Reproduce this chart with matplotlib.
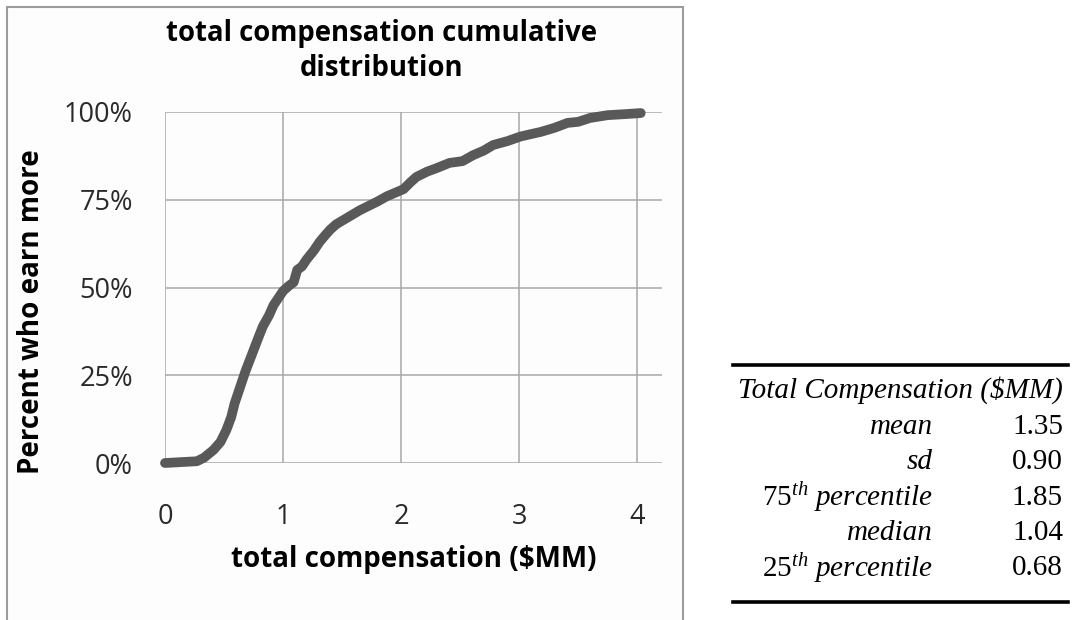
import matplotlib
matplotlib.use("Agg")
import matplotlib.pyplot as plt
from matplotlib.ticker import PercentFormatter
from matplotlib.lines import Line2D
from matplotlib.patches import Rectangle

# curve: compensation ($MM) vs share of people earning more
comp_x = [0.00, 0.27, 0.33, 0.41, 0.47, 0.52, 0.56, 0.59, 0.63, 0.68, 0.72, 0.76,
          0.80, 0.83, 0.88, 0.92, 0.96, 1.00, 1.05, 1.09, 1.12, 1.16, 1.20, 1.26,
          1.31, 1.36, 1.40, 1.45, 1.50, 1.55, 1.60, 1.65, 1.71, 1.80, 1.88, 1.95,
          2.02, 2.08, 2.13, 2.22, 2.30, 2.41, 2.52, 2.61, 2.70, 2.78, 2.90, 3.01,
          3.10, 3.18, 3.30, 3.41, 3.50, 3.60, 3.75, 3.90, 4.03]
pct_more = [0.000, 0.005, 0.015, 0.037, 0.060, 0.094, 0.130, 0.170, 0.210, 0.260,
            0.295, 0.330, 0.365, 0.390, 0.420, 0.450, 0.470, 0.490, 0.505, 0.515,
            0.550, 0.560, 0.580, 0.605, 0.630, 0.650, 0.665, 0.680, 0.690, 0.700,
            0.710, 0.720, 0.730, 0.745, 0.760, 0.770, 0.780, 0.800, 0.815, 0.830,
            0.840, 0.855, 0.860, 0.877, 0.890, 0.906, 0.917, 0.930, 0.937, 0.943,
            0.955, 0.969, 0.972, 0.983, 0.991, 0.994, 0.997]

x_ticks = [0, 1, 2, 3, 4]
y_ticks = [0, 0.25, 0.5, 0.75, 1.0]

# summary table
stat_names = ["mean", "sd", r"$\mathit{75}^{\mathit{th}}$ percentile", "median",
              r"$\mathit{25}^{\mathit{th}}$ percentile"]
stat_values = ["1.35", "0.90", "1.85", "1.04", "0.68"]
table_title = "Total Compensation ($MM)"

plt.rcParams['mathtext.fontset'] = 'custom'
plt.rcParams['mathtext.it'] = 'Liberation Serif:italic'
plt.rcParams['mathtext.rm'] = 'Liberation Serif'

W, H = 1072, 620
fig = plt.figure(figsize=(W / 100, H / 100), dpi=100)


def fx(px):
    return px / W


def fy(py):
    return 1 - py / H


# grey frame round the chart panel
fig.add_artist(Rectangle((fx(7), fy(640)), fx(683 - 7), fy(7) - fy(640),
                         transform=fig.transFigure, facecolor="#fdfdfd",
                         edgecolor="#9c9c9c", lw=1.5, zorder=0))

ax = fig.add_axes([fx(165), fy(463), fx(662 - 165), fy(112) - fy(463)])
ax.set_facecolor("none")
ax.plot(comp_x, pct_more, color="#595959", lw=7, solid_capstyle="round",
        solid_joinstyle="round", clip_on=False, zorder=3)

ax.set_xlim(0, 4.21)
ax.set_ylim(0, 1)
ax.set_xticks(x_ticks)
ax.set_yticks(y_ticks)
ax.yaxis.set_major_formatter(PercentFormatter(1.0, decimals=0))
ax.grid(True, color="#a8a8a8", lw=1.1)
ax.set_axisbelow(True)
for s in ax.spines.values():
    s.set_visible(False)
ax.tick_params(length=0, labelsize=19.5, labelcolor="#2a2a2a")
ax.tick_params(axis="y", pad=23)
ax.tick_params(axis="x", pad=29)
for lab in ax.get_xticklabels() + ax.get_yticklabels():
    lab.set_family("Open Sans")

ax.set_xlabel("total compensation ($MM)", family="Open Sans", fontweight="bold",
              fontsize=20, va="center")
ax.xaxis.set_label_coords(0.5, (463 - 560) / 351)
ax.set_ylabel("Percent who earn more", family="Open Sans", fontweight="bold",
              fontsize=20, va="center")
ax.yaxis.set_label_coords((32 - 165) / 497, (463 - 312) / 351)

fig.text(fx(382), fy(51), "total compensation cumulative\ndistribution",
         family="Open Sans", fontweight="bold", fontsize=19.8, ha="center",
         va="center", linespacing=1.3)

# table on the right
fig.add_artist(Line2D([fx(733), fx(1068)], [fy(365), fy(365)], color="black", lw=2.6))
fig.add_artist(Line2D([fx(733), fx(1068)], [fy(602), fy(602)], color="black", lw=2.6))
serif = dict(family="Liberation Serif", fontsize=21, va="center")
fig.text(fx(1063), fy(390), table_title, style="italic", ha="right", **serif)
for i, (name, val) in enumerate(zip(stat_names, stat_values)):
    yy = 427 + i * 35.3
    fig.text(fx(933), fy(yy), name, style="italic", ha="right", **serif)
    fig.text(fx(1063), fy(yy), val, ha="right", **serif)

fig.savefig("out.png", dpi=100)
